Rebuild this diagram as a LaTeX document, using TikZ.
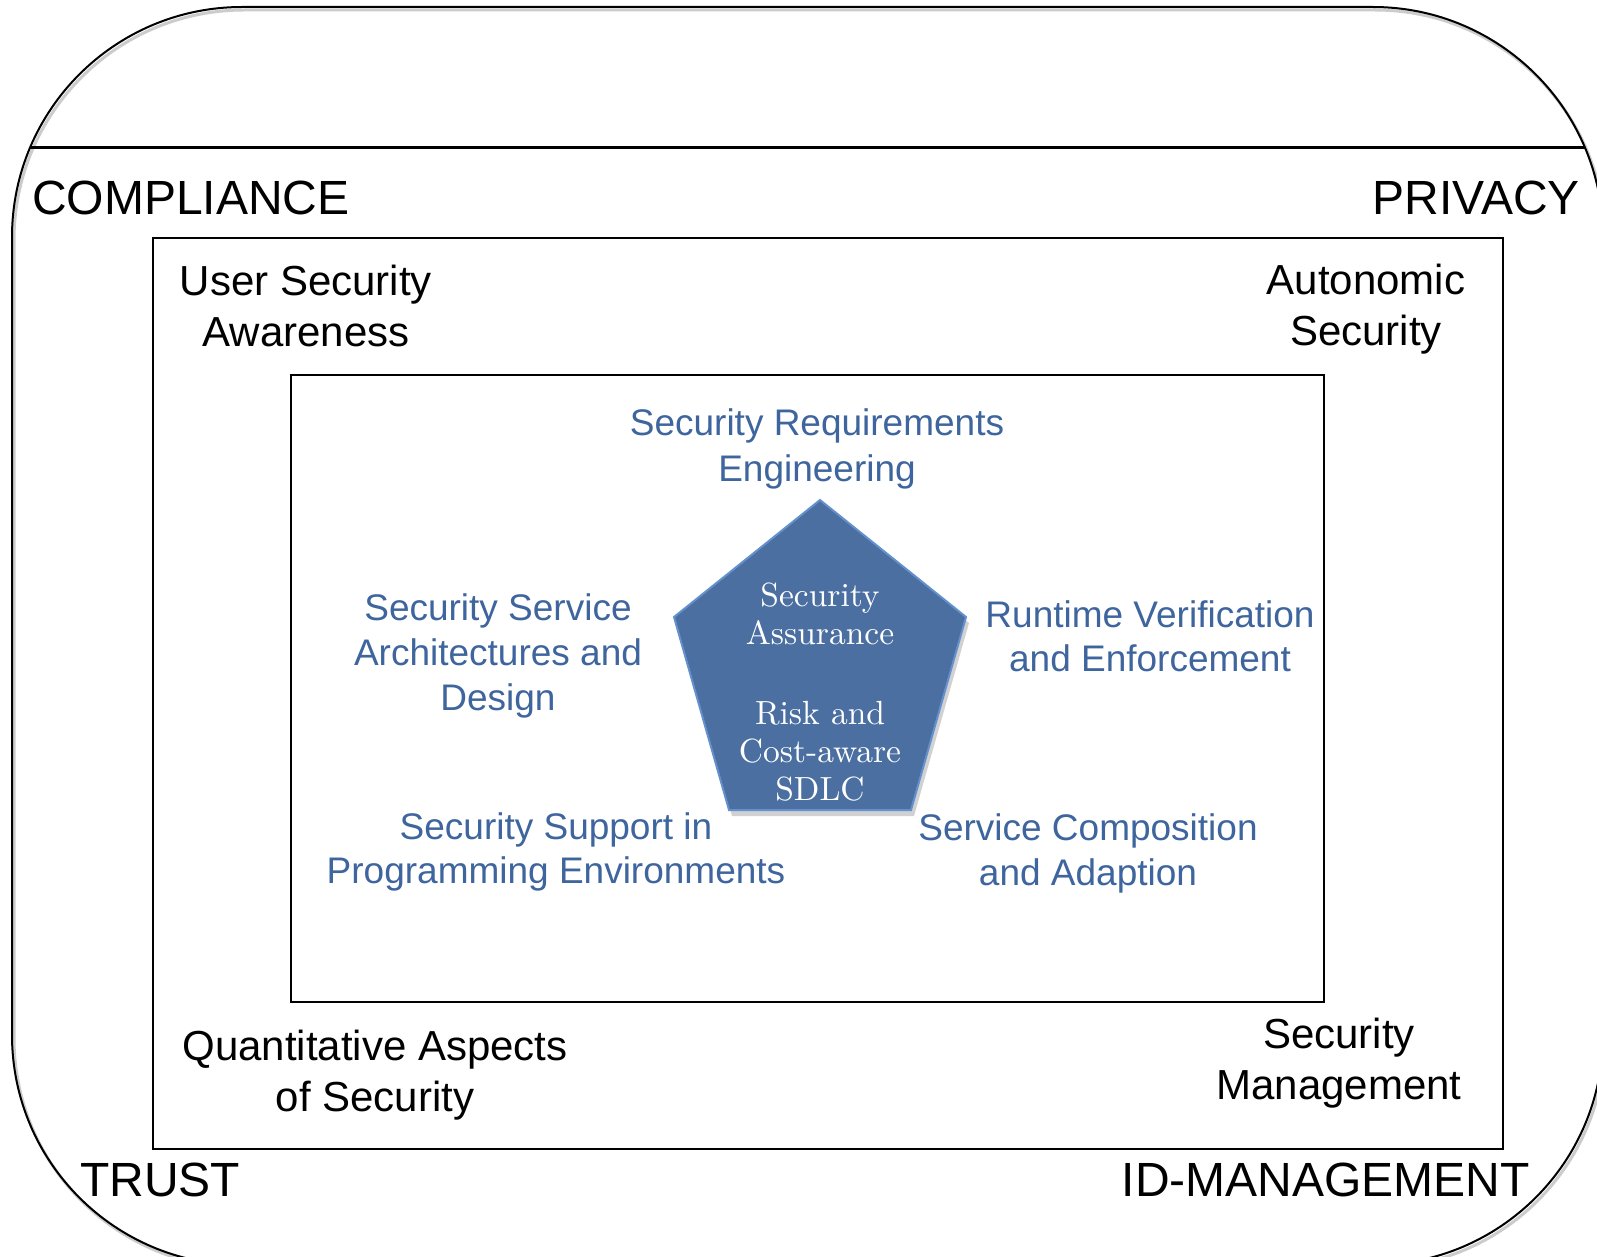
\documentclass[tikz,border=0pt]{standalone}
\usepackage{fontspec}
\newfontfamily\arialf{Liberation Sans}
\newfontfamily\lmten[Extension=.otf]{lmroman10-regular}
\definecolor{bluetext}{RGB}{62,101,157}
\definecolor{pentfill}{RGB}{74,111,160}
\definecolor{pentedge}{RGB}{100,145,205}
\begin{document}
\begin{tikzpicture}[x=1pt,y=-1pt,
  big/.style={font=\arialf\fontsize{48}{56}\selectfont, inner sep=0pt},
  mid/.style={font=\arialf\fontsize{42}{50}\selectfont, inner sep=0pt, anchor=base},
  bl/.style={font=\arialf\fontsize{37}{44}\selectfont, text=bluetext, inner sep=0pt, anchor=base},
  pt/.style={font=\lmten\fontsize{33.5}{38}\selectfont, text=white, inner sep=0pt, anchor=base},
  frame/.style={draw=black, line width=2pt}]
\useasboundingbox (0,0) rectangle (1597,1257);
\clip (0,0) rectangle (1597,1257);
\fill[white] (0,0) rectangle (1597,1257);
% outer rounded shape with faint shadow
\draw[black!20, line width=3pt, rounded corners=230pt] (14,10) rectangle (1605,1268);
\draw[frame, rounded corners=230pt] (12,7) rectangle (1603,1265);
\draw[black, line width=3pt] (30,148) -- (1585,148);
% middle and inner frames
\draw[frame] (153,238) rectangle (1503,1149);
\draw[frame, line width=2.5pt] (291,375) rectangle (1324,1002);
% pentagon
\fill[black, opacity=0.18] (823,506) -- (969,623) -- (914,816) -- (732,816) -- (677,623) -- cycle;
\draw[pentedge, line width=2pt, fill=pentfill] (820,500) coordinate (p1) -- (966,617) coordinate (p2) -- (911,810) coordinate (p3) -- (729,810) coordinate (p4) -- (674,617) coordinate (p5) -- cycle;
% outer labels
\node[big, anchor=base west] (comp) at (32,215) {COMPLIANCE};
\node[big, anchor=base east] (priv) at (1580,215) {PRIVACY};
\node[big, anchor=base west] (trust) at (80,1196) {TRUST};
\node[big, anchor=base east] (idm) at (1530,1196) {ID-MANAGEMENT};
% middle labels
\node[mid] (usa1) at (306,295) {User Security};
\node[mid] (usa2) at (306,346) {Awareness};
\node[mid] (aut1) at (1366,294) {Autonomic};
\node[mid] (aut2) at (1366,345) {Security};
\node[mid] (qas1) at (375,1060) {Quantitative Aspects};
\node[mid] (qas2) at (375,1111) {of Security};
\node[mid] (smg1) at (1339,1048) {Security};
\node[mid] (smg2) at (1339,1099) {Management};
% blue labels
\node[bl] (sre1) at (817,435) {Security Requirements};
\node[bl] (sre2) at (817,481) {Engineering};
\node[bl] (ssa1) at (498,620) {Security Service};
\node[bl] (ssa2) at (498,665) {Architectures and};
\node[bl] (ssa3) at (498,710) {Design};
\node[bl] (rve1) at (1150,627) {Runtime Verification};
\node[bl] (rve2) at (1150,671) {and Enforcement};
\node[bl] (ssp1) at (556,839) {Security Support in};
\node[bl] (ssp2) at (556,883) {Programming Environments};
\node[bl] (sca1) at (1088,840) {Service Composition};
\node[bl] (sca2) at (1088,885) {and Adaption};
% pentagon labels
\node[pt] (pa1) at (820,606) {Security};
\node[pt] (pa2) at (820,644) {Assurance};
\node[pt] (pr1) at (820,724) {Risk and};
\node[pt] (pr2) at (820,762) {Cost-aware};
\node[pt] (pr3) at (820,800) {SDLC};
\end{tikzpicture}
\end{document}
